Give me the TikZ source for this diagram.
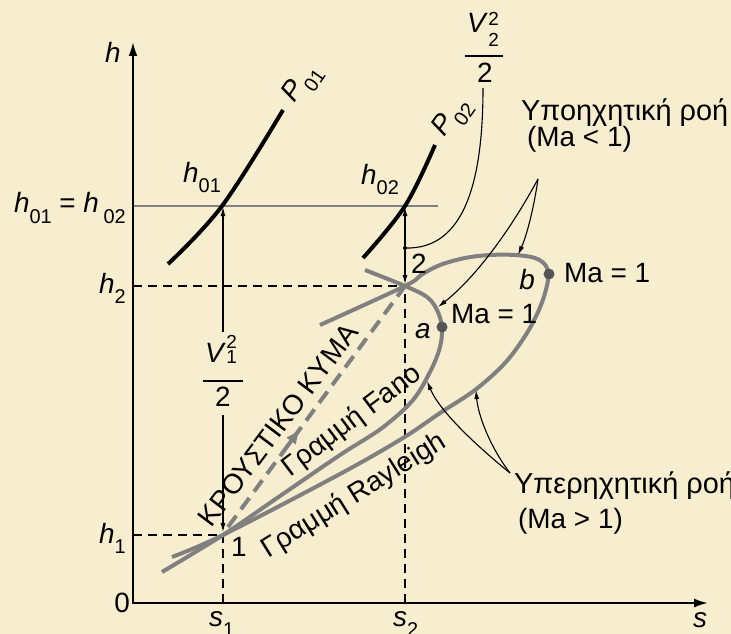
\documentclass[tikz,border=0pt]{standalone}
\usepackage{fontspec}
\setmainfont{Liberation Sans}
\usetikzlibrary{arrows.meta,calc}
\definecolor{bg}{RGB}{247,237,207}
\definecolor{cgray}{RGB}{128,128,128}
\definecolor{dotgray}{RGB}{85,85,85}
\newcommand\lo[1]{\raisebox{-10bp}{\fontsize{20}{20}\selectfont #1}}
\newcommand\Vss[4]{\textit{V}\hspace{0.5bp}\rlap{\raisebox{#3}{\fontsize{19}{19}\selectfont #1}}\raisebox{#4}{\fontsize{19}{19}\selectfont #2}}
\begin{document}
\begin{tikzpicture}[x=1bp,y=-1bp,
  every node/.style={font=\fontsize{28}{32}\selectfont, inner sep=0pt},
  bigtext/.style={font=\fontsize{29}{33}\selectfont},
  axisline/.style={line width=2.2bp, line join=miter, {Latex[length=14bp,width=9bp]}-{Latex[length=14bp,width=9bp]}},
  thinarrow/.style={line width=1.1bp, -{Latex[length=9bp,width=5bp]}},
  pline/.style={line width=4bp, black},
  gcurve/.style={line width=4bp, cgray},
  guide/.style={line width=1.4bp, dash pattern=on 9bp off 6bp},
  shockline/.style={line width=4bp, cgray, dash pattern=on 14bp off 8bp},
  fracbar/.style={line width=1.8bp}
]
\useasboundingbox[fill=bg] (0,0) rectangle (731,634);

% key points
\coordinate (p1) at (223,535);
\coordinate (p2) at (405,286);
\coordinate (p1s) at (228,527);
\coordinate (O) at (133,603);
\coordinate (htop) at (133,42);
\coordinate (send) at (708,603);
\coordinate (h1a) at (133,535);
\coordinate (h2a) at (133,286);
\coordinate (s1a) at (223,603);
\coordinate (s2a) at (405,603);
\coordinate (h0a) at (133,206);
\coordinate (h0b) at (438,206);
\coordinate (pa) at (442,327);
\coordinate (pb) at (549,274);

% guides
\draw[guide] (h1a) -- (p1);
\draw[guide] (h2a) -- (p2);
\draw[guide] (s1a) -- (p1);
\draw[guide] (s2a) -- (p2);
\draw[line width=1.3bp, cgray] (h0a) -- (h0b);

% axes
\draw[axisline] (htop) -- (O) -- (send);

% pressure lines
\draw[pline] plot[smooth, tension=0.6] coordinates {(168,264) (222,206) (283,110)};
\draw[pline] plot[smooth, tension=0.6] coordinates {(363,258) (405,206) (435,145)};

% Fano line
\draw[gcurve] plot[smooth, tension=0.55] coordinates {(162,572) (223,535) (280,496) (340,455) (382,428) (413,400) (431,370) (440,347) (442,327) (437,310) (427,297) (405,286) (365,270)};
% Rayleigh line
\draw[gcurve] plot[smooth, tension=0.55] coordinates {(172,557) (223,535) (340,474) (403,438) (440,413) (475,390) (505,363) (527,333) (541,305) (548,280) (546,266) (535,258) (515,255) (490,255) (465,258) (440,265) (421,275) (405,286) (320,325)};

% shock wave
\draw[shockline] (p1s) -- (p2);
\draw[line width=4bp, cgray, -{Latex[length=16bp,width=12bp]}] ($(p1s)!0.34!(p2)$) -- ($(p1s)!0.41!(p2)$);

% sonic points
\fill[dotgray] (pa) circle[radius=5.5bp];
\fill[dotgray] (pb) circle[radius=5.5bp];

% kinetic-energy arrows
\draw[thinarrow] (223,332) -- (223,207);
\draw[thinarrow] (223,415) -- (223,532);
\draw[line width=1.1bp, {Latex[length=9bp,width=5bp]}-{Latex[length=9bp,width=5bp]}] (405,207) -- (405,284);
\coordinate (v2dot) at (405,248);
\fill (v2dot) circle[radius=2bp];
\draw[line width=1.1bp] (v2dot) .. controls (465,250) and (483,180) .. (483,88);

% fractions
\node[anchor=base] (v1num) at (221,362) {\Vss{2}{1}{14bp}{-1bp}};
\draw[fracbar] (203,381) -- (243,381);
\node[anchor=base] (v1den) at (223,406) {2};
\node[anchor=base] (v2num) at (483,33) {\Vss{2}{2}{7bp}{-14bp}};
\draw[fracbar] (465,56) -- (503,56);
\node[anchor=base] (v2den) at (485,83) {2};

% annotation arrows
\coordinate (sub) at (538,179);
\coordinate (sup) at (510,473);
\draw[thinarrow] (sub) .. controls (534,207) and (527,235) .. (518,255);
\draw[thinarrow] (sub) .. controls (505,240) and (470,282) .. (438,307);
\draw[thinarrow] (sup) .. controls (478,447) and (440,412) .. (427,381);
\draw[thinarrow] (sup) .. controls (490,447) and (478,415) .. (476,390);

% axis labels
\node[anchor=base] (lh) at (113,63) {\textit{h}};
\node[anchor=base east] (lh0) at (126,213) {\textit{h}\lo{01} = \textit{h}\,\lo{02}};
\node[anchor=base east] (lh2) at (126,293) {\textit{h}\lo{2}};
\node[anchor=base east] (lh1) at (126,543) {\textit{h}\lo{1}};
\node[anchor=base east] (l0) at (130,612) {0};
\node[anchor=base west] (ls1) at (209,626) {\textit{s}\lo{1}};
\node[anchor=base west] (ls2) at (393,626) {\textit{s}\lo{2}};
\node[anchor=base] (ls) at (700,627) {\textit{s}};

% point labels
\node[anchor=base west] (l1) at (231,556) {1};
\node[anchor=base west] (l2) at (411,273) {2};
\node[anchor=base west] (lh01) at (183,183) {\textit{h}\lo{01}};
\node[anchor=base west] (lh02) at (361,185) {\textit{h}\lo{02}};
\node[rotate=55] (lp01) at (303,84) {\textit{P}\lo{01}};
\node[rotate=55] (lp02) at (453,118) {\textit{P}\lo{02}};
\node[anchor=base] (la) at (423,338) {\textit{a}};
\node[anchor=base] (lb) at (527,289) {\textit{b}};
\node[anchor=base west] (lma) at (451,323) {Ma = 1};
\node[anchor=base west] (lmb) at (564,282) {Ma = 1};

% curve labels
\node[rotate=53] (lshock) at (278,425) {ΚΡΟΥΣΤΙΚΟ ΚΥΜΑ};
\node[rotate=37] (lfano) at (352,421) {Γραμμή Fano};
\node[rotate=32] (lray) at (354,496) {Γραμμή Rayleigh};

% flow regime labels
\node[bigtext, anchor=base west] (lsub1) at (521,121) {Υποηχητική ροή};
\node[anchor=base west] (lsub2) at (527,147) {(Ma < 1)};
\node[bigtext, anchor=base west] (lsup1) at (514,493) {Υπερηχητική ροή};
\node[anchor=base west] (lsup2) at (518,528) {(Ma > 1)};
\end{tikzpicture}
\end{document}
